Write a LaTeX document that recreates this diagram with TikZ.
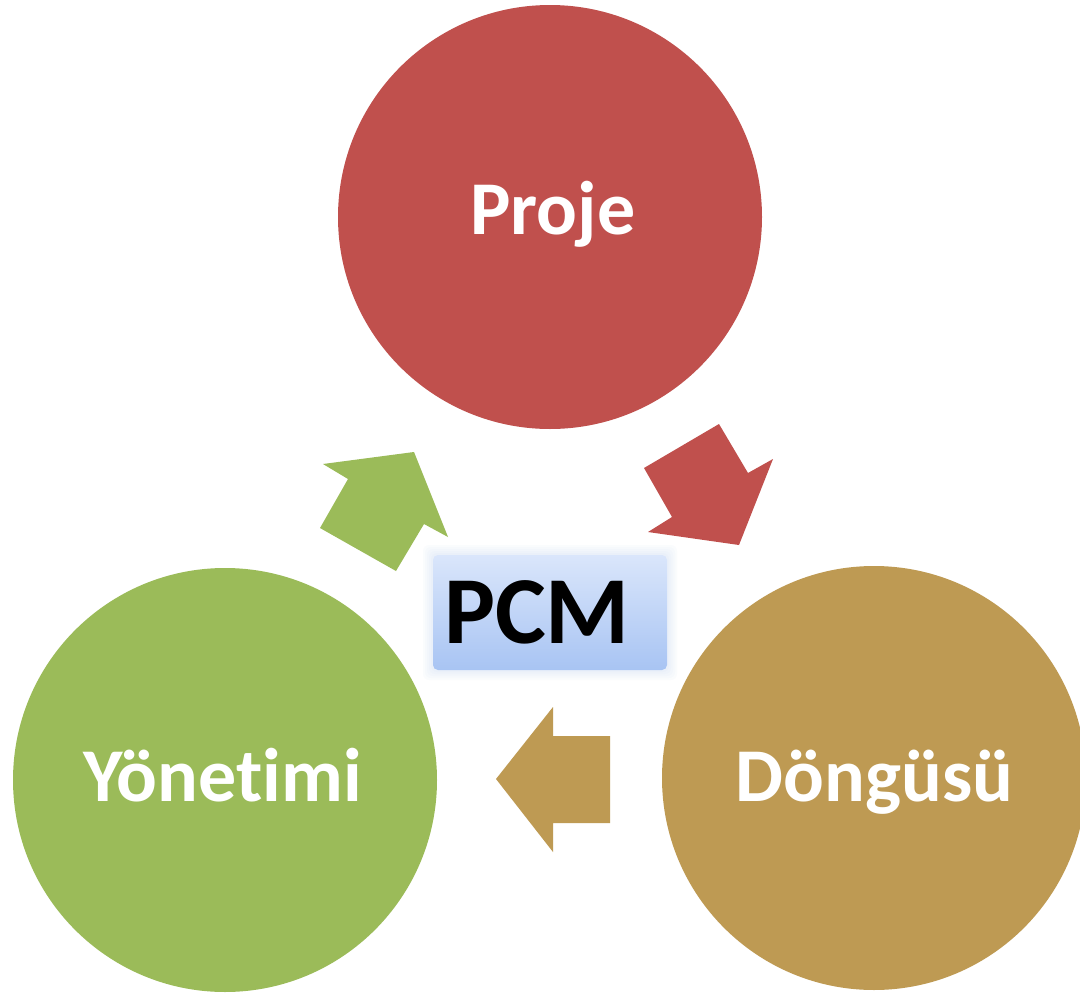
\documentclass[tikz,border=0pt]{standalone}
\usepackage{fontspec}
\setmainfont{Carlito}[Ligatures={NoCommon}]
\definecolor{projered}{HTML}{C0504D}
\definecolor{yongreen}{HTML}{9BBB59}
\definecolor{dongtan}{HTML}{BE9A53}
\definecolor{pcmtop}{HTML}{DAE6FB}
\definecolor{pcmbot}{HTML}{A8C4F3}
\definecolor{pcmglow}{HTML}{B8CCEC}
\begin{document}
\begin{tikzpicture}[x=1pt,y=-1pt,
  circ/.style={circle, minimum size=424pt, inner sep=0pt, draw=none},
  lbl/.style={text=white, font=\fontsize{76}{80}\selectfont\bfseries, anchor=base, inner sep=0pt},
  blockarrow/.style={draw=none}]
\useasboundingbox (0,0) rectangle (1080,996);
\clip (0,0) rectangle (1080,996);
\fill[white] (0,0) rectangle (1080,996);

% circles
\node[circ, fill=projered] (proje) at (550,217) {};
\node[circ, fill=yongreen] (yon) at (225,780) {};
\node[circ, fill=dongtan] (dong) at (874,778) {};

% labels
\node[lbl] (projetxt) at (553,234) {Proje};
\node[lbl] (yontxt) at (222.5,801) {Yönetimi};
\node[lbl] (dongtxt) at (874.5,801) {Döngüsü};

% block arrows
\fill[projered, blockarrow] (644,468) -- (719,424) -- (748,473) -- (773,459) -- (739,545) -- (648,532) -- (672,517) -- cycle;
\fill[dongtan, blockarrow] (610,736) -- (553,736) -- (553,707) -- (496,779) -- (553,852) -- (553,823) -- (610,823) -- cycle;
\fill[yongreen, blockarrow] (320,528) -- (348,479) -- (323,464) -- (414,452) -- (448,537) -- (424,524) -- (396,571) -- cycle;

% PCM box glow
\foreach \g in {10,8,6,4,2}{
  \fill[pcmglow, opacity=0.06, rounded corners=6pt] (433-\g,555-\g) rectangle (667+\g,670+\g);
}
\node[rounded corners=5pt, minimum width=234pt, minimum height=115pt, inner sep=0pt,
      top color=pcmtop, bottom color=pcmbot] (pcm) at (550,612.5) {};
\node[anchor=base, inner sep=0pt, text=black, font=\fontsize{96}{100}\selectfont\bfseries] (pcmtxt) at (537,643) {PCM};
\end{tikzpicture}
\end{document}
